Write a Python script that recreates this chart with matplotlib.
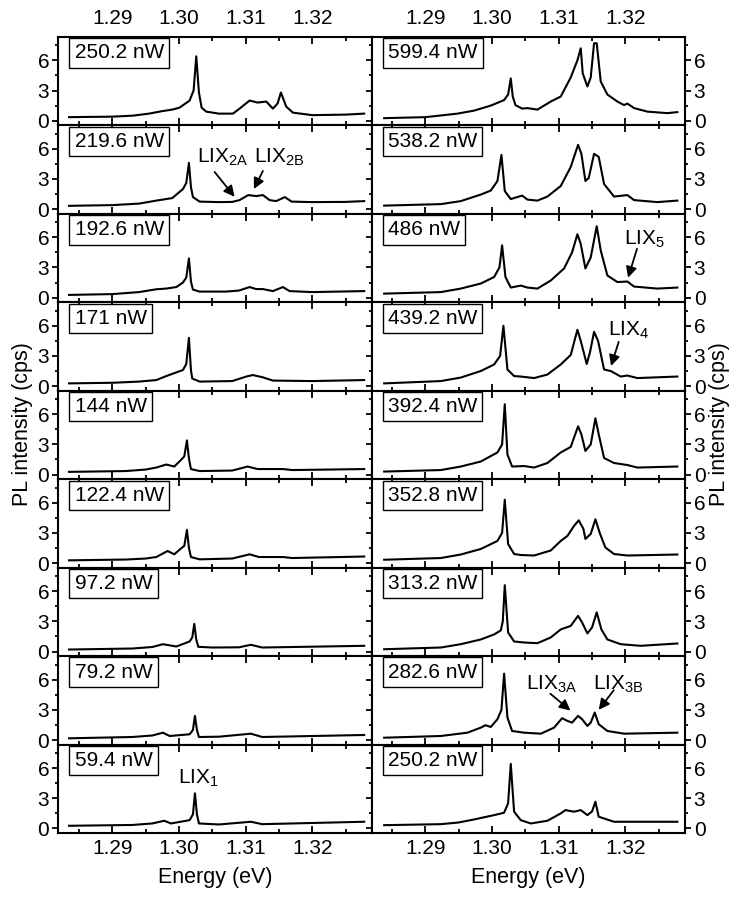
import matplotlib.pyplot as plt
from matplotlib.ticker import FormatStrFormatter

plt.rcParams['font.family'] = 'Liberation Sans'
plt.rcParams['font.size'] = 15

# ---- left column spectra (top to bottom) ----
e_250_2_l = [1.2835, 1.2900, 1.2931, 1.2955, 1.2975, 1.2990, 1.3001, 1.3016, 1.3022, 1.3026, 1.3030,
             1.3034, 1.3041, 1.3060, 1.3081, 1.3091, 1.3106, 1.3118, 1.3131, 1.3141, 1.3148, 1.3153,
             1.3161, 1.3171, 1.3200, 1.3250, 1.3278]
pl_250_2_l = [0.35, 0.4, 0.5, 0.7, 0.95, 1.1, 1.3, 2.0, 3.0, 6.4, 2.8,
              1.3, 0.9, 0.7, 0.7, 1.2, 2.0, 1.8, 1.9, 1.2, 1.7, 2.8,
              1.4, 0.8, 0.55, 0.6, 0.7]

e_219_6 = [1.2835, 1.2900, 1.2940, 1.2966, 1.2990, 1.3006, 1.3011, 1.3015, 1.3018, 1.3021, 1.3031,
           1.3060, 1.3080, 1.3091, 1.3104, 1.3116, 1.3126, 1.3136, 1.3146, 1.3159, 1.3169, 1.3200,
           1.3250, 1.3278]
pl_219_6 = [0.33, 0.4, 0.55, 0.85, 1.1, 2.0, 2.6, 4.6, 2.2, 1.2, 0.75,
            0.7, 0.72, 0.9, 1.4, 1.3, 1.4, 0.9, 0.8, 1.2, 0.75, 0.7,
            0.72, 0.8]

e_192_6 = [1.2835, 1.2900, 1.2940, 1.2966, 1.2981, 1.2996, 1.3006, 1.3011, 1.3015, 1.3018, 1.3021,
           1.3031, 1.3070, 1.3090, 1.3106, 1.3116, 1.3126, 1.3141, 1.3156, 1.3166, 1.3200, 1.3278]
pl_192_6 = [0.27, 0.35, 0.55, 0.83, 0.9, 1.05, 1.5, 2.0, 3.9, 1.6, 0.8,
            0.6, 0.6, 0.7, 1.05, 0.85, 0.85, 0.65, 1.05, 0.65, 0.55, 0.65]

e_171 = [1.2835, 1.2900, 1.2940, 1.2966, 1.2981, 1.3006, 1.3011, 1.3015, 1.3018, 1.3020, 1.3031,
         1.3080, 1.3101, 1.3111, 1.3126, 1.3141, 1.3200, 1.3278]
pl_171 = [0.27, 0.33, 0.45, 0.6, 1.0, 1.6, 2.2, 4.8, 1.6, 0.75, 0.45,
          0.5, 0.95, 1.1, 0.87, 0.55, 0.5, 0.6]

e_144 = [1.2835, 1.2920, 1.2950, 1.2966, 1.2981, 1.2993, 1.3003, 1.3008, 1.3012, 1.3015, 1.3018,
         1.3031, 1.3080, 1.3103, 1.3118, 1.3156, 1.3170, 1.3278]
pl_144 = [0.27, 0.35, 0.5, 0.7, 1.0, 0.8, 1.45, 1.8, 3.4, 1.6, 0.55,
          0.35, 0.4, 0.8, 0.55, 0.55, 0.45, 0.55]

e_122_4 = [1.2835, 1.2920, 1.2950, 1.2966, 1.2983, 1.2993, 1.3003, 1.3008, 1.3012, 1.3015, 1.3018,
           1.3031, 1.3080, 1.3106, 1.3120, 1.3156, 1.3170, 1.3278]
pl_122_4 = [0.27, 0.35, 0.45, 0.6, 1.2, 0.87, 1.45, 1.7, 3.3, 1.5, 0.6,
            0.37, 0.45, 0.87, 0.6, 0.6, 0.5, 0.65]

e_97_2 = [1.2835, 1.2930, 1.2960, 1.2976, 1.2996, 1.3016, 1.3020, 1.3023, 1.3026, 1.3029, 1.3050,
          1.3090, 1.3108, 1.3125, 1.3278]
pl_97_2 = [0.2, 0.3, 0.45, 0.73, 0.5, 1.0, 1.4, 2.75, 1.2, 0.47, 0.4,
           0.42, 0.67, 0.4, 0.57]

e_79_2 = [1.2835, 1.2930, 1.2960, 1.2976, 1.2986, 1.3016, 1.3021, 1.3024, 1.3027, 1.3030, 1.3060,
          1.3108, 1.3125, 1.3278]
pl_79_2 = [0.17, 0.3, 0.45, 0.73, 0.4, 0.57, 1.0, 2.4, 1.0, 0.3, 0.33,
           0.63, 0.3, 0.5]

e_59_4 = [1.2835, 1.2930, 1.2960, 1.2978, 1.2988, 1.3016, 1.3021, 1.3024, 1.3027, 1.3030, 1.3060,
          1.3108, 1.3125, 1.3278]
pl_59_4 = [0.27, 0.35, 0.5, 0.77, 0.5, 0.83, 1.4, 3.5, 1.4, 0.5, 0.4,
           0.67, 0.43, 0.67]

# ---- right column spectra (top to bottom) ----
e_599_4 = [1.2838, 1.2900, 1.2948, 1.2973, 1.2998, 1.3018, 1.3024, 1.3028, 1.3031, 1.3035, 1.3045,
           1.3053, 1.3068, 1.3088, 1.3103, 1.3118, 1.3128, 1.3133, 1.3136, 1.3143, 1.3148, 1.3153,
           1.3157, 1.3163, 1.3173, 1.3188, 1.3198, 1.3203, 1.3213, 1.3233, 1.3263, 1.3278]
pl_599_4 = [0.25, 0.35, 0.7, 1.0, 1.5, 2.05, 2.6, 4.2, 2.4, 1.55, 1.2,
            1.25, 1.1, 1.9, 2.4, 4.3, 6.0, 7.2, 4.7, 3.4, 4.3, 7.7,
            7.7, 3.9, 2.6, 1.9, 1.55, 1.7, 1.25, 0.9, 0.75, 0.85]

e_538_2 = [1.2838, 1.2923, 1.2953, 1.2983, 1.2998, 1.3008, 1.3014, 1.3019, 1.3028, 1.3045, 1.3053,
           1.3068, 1.3083, 1.3103, 1.3118, 1.3129, 1.3134, 1.3140, 1.3145, 1.3153, 1.3160, 1.3168,
           1.3183, 1.3203, 1.3213, 1.3248, 1.3278]
pl_538_2 = [0.35, 0.5, 0.8, 1.45, 1.85, 2.8, 5.4, 1.8, 1.0, 1.35, 0.95,
            0.85, 1.25, 2.3, 4.2, 6.4, 5.5, 2.8, 3.1, 5.5, 5.2, 2.5,
            1.25, 1.4, 0.9, 0.7, 0.85]

e_486 = [1.2838, 1.2923, 1.2953, 1.2983, 1.3003, 1.3011, 1.3015, 1.3020, 1.3028, 1.3043, 1.3053,
         1.3068, 1.3088, 1.3108, 1.3120, 1.3128, 1.3133, 1.3140, 1.3148, 1.3157, 1.3163, 1.3173,
         1.3188, 1.3203, 1.3213, 1.3248, 1.3278]
pl_486 = [0.4, 0.55, 0.9, 1.4, 2.05, 3.0, 5.2, 2.05, 1.0, 1.2, 1.0,
          0.9, 1.7, 2.9, 4.5, 6.3, 5.35, 2.9, 4.0, 7.1, 4.7, 2.2,
          1.55, 1.6, 1.1, 0.9, 1.0]

e_439_2 = [1.2838, 1.2923, 1.2953, 1.2983, 1.3003, 1.3012, 1.3017, 1.3023, 1.3033, 1.3043, 1.3063,
           1.3083, 1.3103, 1.3118, 1.3128, 1.3133, 1.3142, 1.3147, 1.3153, 1.3159, 1.3168, 1.3178,
           1.3193, 1.3203, 1.3218, 1.3278]
pl_439_2 = [0.27, 0.5, 0.85, 1.5, 2.15, 3.0, 6.0, 1.65, 1.0, 0.95, 0.8,
            1.15, 2.15, 3.1, 5.6, 4.5, 2.2, 3.4, 5.4, 4.5, 1.65, 1.5,
            0.95, 1.05, 0.8, 0.95]

e_392_4 = [1.2838, 1.2923, 1.2953, 1.2983, 1.3008, 1.3015, 1.3019, 1.3023, 1.3030, 1.3048, 1.3063,
           1.3083, 1.3103, 1.3118, 1.3129, 1.3134, 1.3140, 1.3148, 1.3155, 1.3160, 1.3168, 1.3183,
           1.3203, 1.3218, 1.3278]
pl_392_4 = [0.3, 0.45, 0.8, 1.3, 2.2, 3.0, 7.0, 2.0, 0.8, 0.85, 0.7,
            1.15, 2.2, 2.75, 4.8, 4.0, 2.35, 3.0, 5.6, 4.0, 1.65, 1.15,
            0.95, 0.7, 0.8]

e_352_8 = [1.2838, 1.2923, 1.2953, 1.2983, 1.3008, 1.3015, 1.3019, 1.3024, 1.3033, 1.3043, 1.3063,
           1.3088, 1.3103, 1.3113, 1.3123, 1.3130, 1.3137, 1.3140, 1.3148, 1.3155, 1.3162, 1.3170,
           1.3183, 1.3203, 1.3278]
pl_352_8 = [0.33, 0.5, 0.85, 1.4, 2.2, 3.0, 6.3, 1.9, 0.9, 0.8, 0.75,
            1.25, 2.2, 2.7, 3.7, 4.25, 3.4, 2.4, 2.9, 4.35, 2.9, 1.55,
            0.9, 0.75, 0.85]

e_313_2 = [1.2838, 1.2923, 1.2953, 1.2983, 1.3003, 1.3013, 1.3016, 1.3019, 1.3024, 1.3033, 1.3048,
           1.3068, 1.3088, 1.3103, 1.3118, 1.3129, 1.3135, 1.3143, 1.3150, 1.3157, 1.3164, 1.3173,
           1.3193, 1.3223, 1.3278]
pl_313_2 = [0.23, 0.4, 0.73, 1.2, 1.7, 2.1, 3.0, 6.6, 1.9, 1.0, 0.9,
            0.83, 1.4, 2.2, 2.55, 3.55, 2.9, 1.8, 2.4, 3.9, 2.2, 1.2,
            0.73, 0.57, 0.8]

e_282_6 = [1.2838, 1.2923, 1.2963, 1.2983, 1.2990, 1.2998, 1.3008, 1.3014, 1.3018, 1.3023, 1.3030,
           1.3048, 1.3073, 1.3093, 1.3105, 1.3113, 1.3120, 1.3129, 1.3135, 1.3143, 1.3148, 1.3154,
           1.3160, 1.3173, 1.3198, 1.3278]
pl_282_6 = [0.23, 0.4, 0.73, 1.23, 1.47, 1.3, 2.07, 3.0, 6.6, 2.23, 0.9,
            0.73, 0.63, 1.23, 2.17, 1.9, 1.73, 2.4, 2.07, 1.4, 1.73, 2.73,
            1.57, 0.9, 0.63, 0.73]

e_250_2_r = [1.2838, 1.2923, 1.2950, 1.2973, 1.3003, 1.3018, 1.3024, 1.3028, 1.3033, 1.3043, 1.3058,
             1.3083, 1.3103, 1.3110, 1.3123, 1.3133, 1.3143, 1.3150, 1.3155, 1.3160, 1.3183, 1.3278]
pl_250_2_r = [0.33, 0.43, 0.6, 0.9, 1.33, 1.57, 2.5, 6.43, 1.67, 0.83, 0.5,
              0.77, 1.5, 1.83, 1.67, 1.83, 1.33, 1.7, 2.67, 1.17, 0.67, 0.67]

left_labels = ['250.2 nW', '219.6 nW', '192.6 nW', '171 nW', '144 nW',
               '122.4 nW', '97.2 nW', '79.2 nW', '59.4 nW']
right_labels = ['599.4 nW', '538.2 nW', '486 nW', '439.2 nW', '392.4 nW',
                '352.8 nW', '313.2 nW', '282.6 nW', '250.2 nW']

left_spectra = [(e_250_2_l, pl_250_2_l), (e_219_6, pl_219_6), (e_192_6, pl_192_6),
                (e_171, pl_171), (e_144, pl_144), (e_122_4, pl_122_4),
                (e_97_2, pl_97_2), (e_79_2, pl_79_2), (e_59_4, pl_59_4)]
right_spectra = [(e_599_4, pl_599_4), (e_538_2, pl_538_2), (e_486, pl_486),
                 (e_439_2, pl_439_2), (e_392_4, pl_392_4), (e_352_8, pl_352_8),
                 (e_313_2, pl_313_2), (e_282_6, pl_282_6), (e_250_2_r, pl_250_2_r)]


def style_axis(ax, row, n_rows, right_side):
    ax.set_xlim(1.2819, 1.3289)
    ax.set_ylim(-0.45, 8.35)
    ax.set_xticks([1.29, 1.30, 1.31, 1.32])
    ax.set_xticks([1.285, 1.295, 1.305, 1.315, 1.325], minor=True)
    ax.set_yticks([0, 3, 6])
    ax.set_yticks([1.5, 4.5, 7.5], minor=True)
    ax.xaxis.set_major_formatter(FormatStrFormatter('%.2f'))
    for s in ax.spines.values():
        s.set_linewidth(1.5)
    ax.tick_params(axis='x', which='both', direction='in', top=True, bottom=True,
                   labelbottom=(row == n_rows - 1), labeltop=(row == 0), width=1.3)
    ax.tick_params(axis='x', which='major', length=5)
    ax.tick_params(axis='x', which='minor', length=3)
    ax.tick_params(axis='x', pad=6 if row == 0 else 4)
    ax.tick_params(axis='y', which='both', direction='out', left=True, right=True,
                   labelleft=not right_side, labelright=right_side, width=1.3, pad=2)
    ax.tick_params(axis='y', which='major', length=4.5)
    ax.tick_params(axis='y', which='minor', length=2.5)


def add_box_label(ax, text):
    ax.text(0.052, 0.925, text, transform=ax.transAxes, va='top', ha='left', fontsize=15,
            bbox=dict(boxstyle='square,pad=0.25', fc='white', ec='black', lw=1.0))


def add_arrow(ax, start, end):
    ax.annotate('', xy=end, xytext=start,
                arrowprops=dict(arrowstyle='-|>', color='black', lw=1.3,
                                mutation_scale=16, shrinkA=0, shrinkB=0))


def plot_pl_spectra():
    n_rows = len(left_labels)
    fig, axes = plt.subplots(n_rows, 2, figsize=(7.46, 9.11), dpi=100)
    fig.subplots_adjust(left=0.0782, right=0.9178, top=0.9597, bottom=0.0856,
                        hspace=0, wspace=0)

    for row in range(n_rows):
        for col, (spectra, labels) in enumerate([(left_spectra, left_labels),
                                                  (right_spectra, right_labels)]):
            ax = axes[row, col]
            e, pl = spectra[row]
            ax.plot(e, pl, color='black', lw=1.5)
            style_axis(ax, row, n_rows, right_side=(col == 1))
            add_box_label(ax, labels[row])

    # peak labels
    ax = axes[1, 0]
    ax.text(1.30656, 5.2, 'LIX$_\\mathregular{2A}$', ha='center', va='center')
    add_arrow(ax, (1.30535, 3.7), (1.30835, 1.23))
    ax.text(1.31504, 5.2, 'LIX$_\\mathregular{2B}$', ha='center', va='center')
    add_arrow(ax, (1.3126, 3.8), (1.31125, 2.0))

    ax = axes[8, 0]
    ax.text(1.30295, 5.0, 'LIX$_\\mathregular{1}$', ha='center', va='center')

    ax = axes[2, 1]
    ax.text(1.32285, 5.85, 'LIX$_\\mathregular{5}$', ha='center', va='center')
    add_arrow(ax, (1.32175, 4.85), (1.3204, 1.98))

    ax = axes[3, 1]
    ax.text(1.3205, 5.6, 'LIX$_\\mathregular{4}$', ha='center', va='center')
    add_arrow(ax, (1.319, 4.4), (1.31785, 2.0))

    ax = axes[7, 1]
    ax.text(1.30895, 5.6, 'LIX$_\\mathregular{3A}$', ha='center', va='center')
    add_arrow(ax, (1.30875, 4.6), (1.31175, 2.93))
    ax.text(1.319, 5.6, 'LIX$_\\mathregular{3B}$', ha='center', va='center')
    add_arrow(ax, (1.31825, 4.95), (1.316, 3.0))

    fig.text(0.030, 0.535, 'PL intensity (cps)', rotation=90, ha='center', va='center',
             fontsize=15.5)
    fig.text(0.965, 0.535, 'PL intensity (cps)', rotation=90, ha='center', va='center',
             fontsize=15.5)
    fig.text(0.288, 0.037, 'Energy (eV)', ha='center', va='center', fontsize=15.5)
    fig.text(0.708, 0.037, 'Energy (eV)', ha='center', va='center', fontsize=15.5)

    fig.savefig('out.png', dpi=100)


plot_pl_spectra()
